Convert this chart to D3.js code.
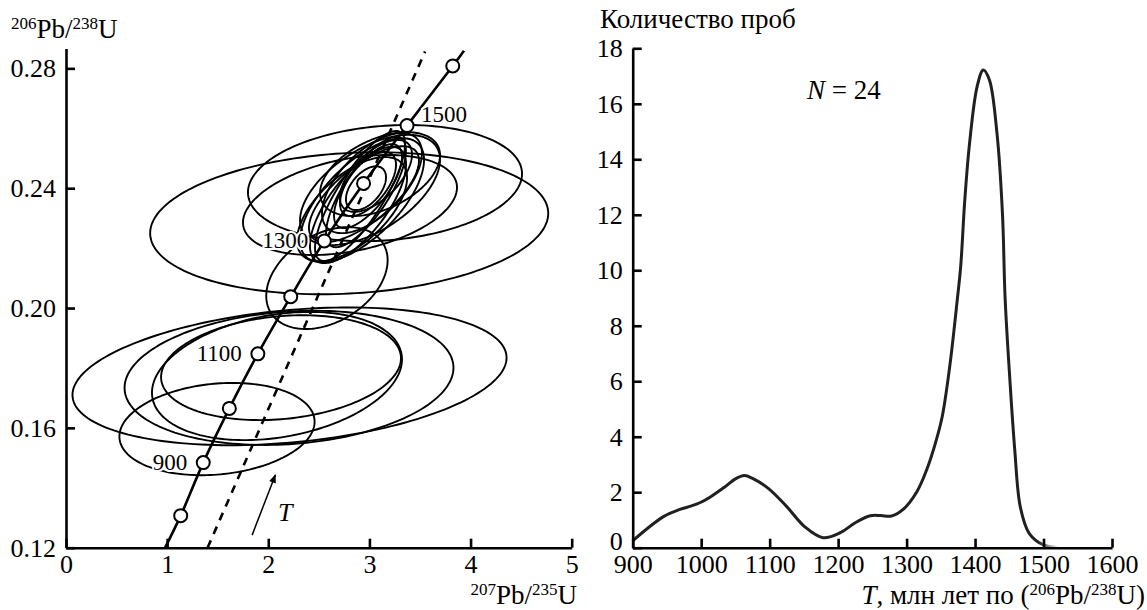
<!DOCTYPE html>
<html>
<head>
<meta charset="utf-8">
<script src="https://cdn.jsdelivr.net/npm/d3@7"></script>
<style>
  body { margin: 0; background: #fff; }
  text { font-family: "Liberation Serif", "Times New Roman", serif; fill: #000; }
</style>
</head>
<body>
<svg id="chart" width="1147" height="610"></svg>
<script>
// --- concordia (left panel) ---
const concX = [0.98, 1.134, 1.357, 1.615, 1.897, 2.222, 2.554, 2.942, 3.372, 3.824, 3.935];
const concY = [0.120, 0.1307, 0.1484, 0.1665, 0.1847, 0.2038, 0.2224, 0.2416, 0.2609, 0.2808, 0.2859];
const concAge = [null, 800, 900, 1000, 1100, 1200, 1300, 1400, 1500, 1600, null];
const concLabels = [900, 1100, 1300, 1500];

// dashed reference line
const dashX = [1.40, 3.55];
const dashY = [0.120, 0.2856];

// arrow "T"
const arrowX = [1.84, 2.07];
const arrowY = [0.1242, 0.1443];

// error ellipses: centre, half-extent in x and y, correlation
const ellCX  = [2.80, 3.154, 2.808, 2.58, 2.21, 2.205, 2.086, 2.126, 1.493,
                2.927, 3.006, 2.887, 3.025, 2.966, 2.986, 2.907, 3.065, 2.966, 2.946, 3.105, 2.828, 2.986];
const ellCY  = [0.2283, 0.2417, 0.2344, 0.210, 0.1772, 0.1767, 0.1773, 0.1801, 0.1596,
                0.2360, 0.2394, 0.2344, 0.2417, 0.2387, 0.2407, 0.2374, 0.2441, 0.2400, 0.2380, 0.2447, 0.2330, 0.2414];
const ellSX  = [1.968, 1.355, 1.058, 0.60, 2.146, 1.626, 1.236, 1.186, 0.965,
                0.613, 0.692, 0.475, 0.494, 0.395, 0.336, 0.445, 0.356, 0.198, 0.544, 0.593, 0.544, 0.277];
const ellSY  = [0.0237, 0.0194, 0.0167, 0.017, 0.023, 0.0224, 0.0214, 0.0175, 0.0154,
                0.0207, 0.0184, 0.0194, 0.0167, 0.0184, 0.0140, 0.0217, 0.0120, 0.0073, 0.0160, 0.0140, 0.0174, 0.0107];
const ellRho = [0.14, 0.16, 0.35, 0.35, 0.27, 0.15, 0.26, 0.18, 0.16,
                0.65, 0.55, 0.7, 0.6, 0.75, 0.7, 0.8, 0.6, 0.5, 0.7, 0.45, 0.6, 0.6];

const xTicksL = [0, 1, 2, 3, 4, 5];
const yTicksL = [0.12, 0.16, 0.20, 0.24, 0.28];

// --- age distribution (right panel) ---
const ageT = [900, 945, 969, 985, 998, 1014, 1035, 1050, 1063, 1075, 1098, 1125, 1151, 1178, 1204, 1225,
              1247, 1262, 1278, 1294, 1315, 1331, 1342, 1352, 1363, 1374, 1379, 1385, 1392, 1403, 1412,
              1421, 1432, 1440, 1444, 1451, 1458, 1466, 1479, 1500, 1520];
const ageCount = [0.25, 1.12, 1.38, 1.50, 1.62, 1.84, 2.2, 2.48, 2.6, 2.5, 2.14, 1.48, 0.76, 0.36, 0.55, 0.9,
                  1.15, 1.16, 1.14, 1.36, 2.02, 2.92, 3.76, 4.72, 6.53, 8.93, 10.13, 12.53, 14.58, 16.62, 17.22,
                  16.86, 14.94, 12.05, 8.93, 6.0, 3.52, 1.48, 0.52, 0.1, 0.02];

const xTicksR = [900, 1000, 1100, 1200, 1300, 1400, 1500, 1600];
const yTicksR = [0, 2, 4, 6, 8, 10, 12, 14, 16, 18];

const svg = d3.select('#chart');
const TICK_FS = 26;
const TITLE_FS = 27;

function rich(g, x, y, parts, anchor) {
  const t = g.append('text')
      .attr('x', x)
      .attr('y', y)
      .attr('font-size', TITLE_FS)
      .attr('text-anchor', anchor || 'start');
  parts.forEach(p => {
    const s = t.append('tspan').text(p.t);
    if (p.sup) s.attr('font-size', 17).attr('dy', -9);
    if (p.after) s.attr('dy', 9);
    if (p.it) s.attr('font-style', 'italic');
  });
  return t;
}

function styleAxis(g) {
  g.attr('font-size', TICK_FS).attr('font-family', '"Liberation Serif", serif');
  g.select('.domain').attr('stroke-width', 2.6);
  g.selectAll('.tick line').attr('stroke-width', 2.6);
  g.selectAll('.tick text').attr('fill', '#000');
}

// ================= left panel =================
const xL = d3.scaleLinear().domain([0, 5]).range([66, 571.7]);
const yL = d3.scaleLinear().domain([0.12, 0.2866]).range([547.7, 48.6]);

const left = svg.append('g');

const defs = svg.append('defs');
defs.append('clipPath').attr('id', 'clipL')
  .append('rect').attr('x', 66).attr('y', 40).attr('width', 520).attr('height', 508);

const ellipse = i => {
  const r = ellRho[i];
  const pts = d3.range(0, 2 * Math.PI, Math.PI / 90).map(t => [
    xL(ellCX[i] + ellSX[i] * Math.cos(t)),
    yL(ellCY[i] + ellSY[i] * (r * Math.cos(t) + Math.sqrt(1 - r * r) * Math.sin(t)))
  ]);
  return d3.line().curve(d3.curveLinearClosed)(pts);
};

left.append('g')
    .attr('clip-path', 'url(#clipL)')
    .selectAll('path')
    .data(d3.range(ellCX.length))
  .enter().append('path')
    .attr('d', ellipse)
    .attr('fill', 'none')
    .attr('stroke', '#000')
    .attr('stroke-width', 1.9);

left.append('path')
    .attr('d', d3.line()(dashX.map((d, i) => [xL(d), yL(dashY[i])])))
    .attr('fill', 'none')
    .attr('stroke', '#000')
    .attr('stroke-width', 2.6)
    .attr('stroke-dasharray', '8,7');

left.append('path')
    .attr('d', d3.line().curve(d3.curveCatmullRom)(concX.map((d, i) => [xL(d), yL(concY[i])])))
    .attr('fill', 'none')
    .attr('stroke', '#000')
    .attr('stroke-width', 2.6);

const marks = concAge.map((a, i) => ({ a, x: concX[i], y: concY[i] })).filter(d => d.a);

// age labels with a white halo, as in the original
left.append('g')
    .selectAll('text')
    .data(marks.filter(d => concLabels.includes(d.a)))
  .enter().append('text')
    .attr('x', d => d.a === 1500 ? xL(d.x) + 14 : xL(d.x) - 16)
    .attr('y', d => d.a === 1500 ? yL(d.y) - 4 : yL(d.y) + 7)
    .attr('text-anchor', d => d.a === 1500 ? 'start' : 'end')
    .attr('font-size', 23)
    .attr('stroke', '#fff')
    .attr('stroke-width', 4)
    .attr('paint-order', 'stroke')
    .text(d => d.a);

left.append('g')
    .selectAll('circle')
    .data(marks)
  .enter().append('circle')
    .attr('cx', d => xL(d.x))
    .attr('cy', d => yL(d.y))
    .attr('r', 6.5)
    .attr('fill', '#fff')
    .attr('stroke', '#000')
    .attr('stroke-width', 2);

// arrow T
defs.append('marker')
    .attr('id', 'head')
    .attr('viewBox', '0 0 10 8')
    .attr('refX', 9)
    .attr('refY', 4)
    .attr('markerWidth', 11)
    .attr('markerHeight', 7)
    .attr('markerUnits', 'userSpaceOnUse')
    .attr('orient', 'auto')
  .append('path')
    .attr('d', 'M0,0L10,4L0,8Z')
    .attr('fill', '#000');

left.append('line')
    .attr('x1', xL(arrowX[0]))
    .attr('y1', yL(arrowY[0]))
    .attr('x2', xL(arrowX[1]))
    .attr('y2', yL(arrowY[1]))
    .attr('stroke', '#000')
    .attr('stroke-width', 1.5)
    .attr('marker-end', 'url(#head)');

left.append('text')
    .attr('x', xL(2.096))
    .attr('y', yL(0.129))
    .attr('font-size', 26)
    .attr('font-style', 'italic')
    .text('T');

left.append('g')
    .attr('transform', `translate(0, ${yL(0.12)})`)
    .call(d3.axisBottom(xL).tickValues(xTicksL).tickFormat(d3.format('d'))
      .tickSizeInner(-9).tickSizeOuter(0).tickPadding(7))
    .call(styleAxis);

left.append('g')
    .attr('transform', `translate(${xL(0)}, 0)`)
    .call(d3.axisLeft(yL).tickValues(yTicksL).tickFormat(d3.format('.2f'))
      .tickSizeInner(-9).tickSizeOuter(0).tickPadding(10))
    .call(styleAxis);

rich(left, 11, 38, [{ t: '206', sup: 1 }, { t: 'Pb/', after: 1 }, { t: '238', sup: 1 }, { t: 'U', after: 1 }]);
rich(left, 577, 603.5, [{ t: '207', sup: 1 }, { t: 'Pb/', after: 1 }, { t: '235', sup: 1 }, { t: 'U', after: 1 }], 'end');

// ================= right panel =================
const xR = d3.scaleLinear().domain([900, 1600]).range([632.7, 1112]);
const yR = d3.scaleLinear().domain([0, 18]).range([547.7, 48.3]);

const right = svg.append('g');

const grad = defs.append('linearGradient')
    .attr('id', 'fade')
    .attr('gradientUnits', 'userSpaceOnUse')
    .attr('x1', xR(1492)).attr('x2', xR(1522))
    .attr('y1', 0).attr('y2', 0);
grad.append('stop').attr('offset', 0).attr('stop-color', '#202020').attr('stop-opacity', 1);
grad.append('stop').attr('offset', 1).attr('stop-color', '#202020').attr('stop-opacity', 0);

right.append('path')
    .datum(ageT.map((d, i) => [d, ageCount[i]]))
    .attr('d', d3.line().curve(d3.curveCatmullRom.alpha(0.5)).x(d => xR(d[0])).y(d => yR(d[1])))
    .attr('fill', 'none')
    .attr('stroke', 'url(#fade)')
    .attr('stroke-width', 3);

right.append('g')
    .attr('transform', `translate(0, ${yR(0)})`)
    .call(d3.axisBottom(xR).tickValues(xTicksR).tickFormat(d3.format('d'))
      .tickSizeInner(-9).tickSizeOuter(0).tickPadding(7))
    .call(styleAxis);

right.append('g')
    .attr('transform', `translate(${xR(900)}, 0)`)
    .call(d3.axisLeft(yR).tickValues(yTicksR).tickFormat(d3.format('d'))
      .tickSizeInner(-9).tickSizeOuter(0).tickPadding(10))
    .call(styleAxis)
    .call(g => g.selectAll('.tick text').filter(d => d === 0).attr('dy', '0.05em'));

right.append('text')
    .attr('x', 600)
    .attr('y', 28)
    .attr('font-size', TITLE_FS)
    .text('Количество проб');

rich(right, 807, 99, [{ t: 'N', it: 1 }, { t: ' = 24' }]);

rich(right, 1145, 603.5, [{ t: 'T', it: 1 }, { t: ', млн лет по (' }, { t: '206', sup: 1 },
  { t: 'Pb/', after: 1 }, { t: '238', sup: 1 }, { t: 'U)', after: 1 }], 'end');
</script>
</body>
</html>
